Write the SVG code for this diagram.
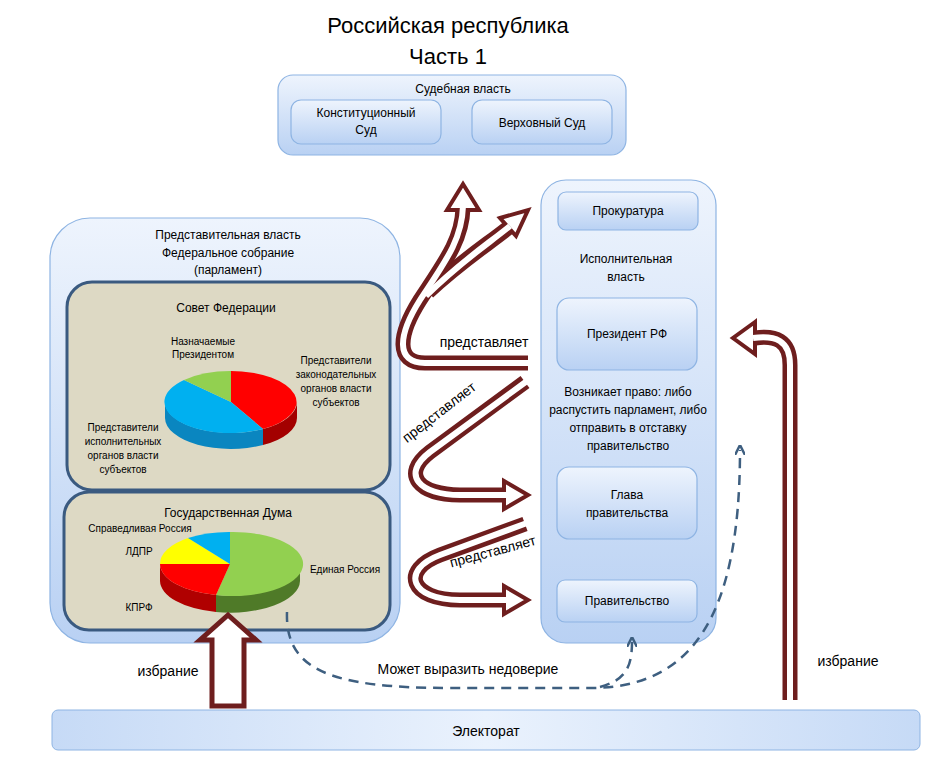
<svg xmlns="http://www.w3.org/2000/svg" width="936" height="757" viewBox="0 0 936 757">
<defs>
<linearGradient id="bg" x1="0" y1="0" x2="0" y2="1"><stop offset="0" stop-color="#eef4fd"/><stop offset="1" stop-color="#b9d1f3"/></linearGradient>
<linearGradient id="bg2" x1="0" y1="0" x2="1" y2="0"><stop offset="0" stop-color="#c6daf6"/><stop offset="0.5" stop-color="#eaf2fd"/><stop offset="1" stop-color="#c6daf6"/></linearGradient>
<marker id="da" markerWidth="10" markerHeight="10" refX="5" refY="5" orient="auto" markerUnits="userSpaceOnUse" viewBox="0 0 10 10"><path d="M0,0 L10,5 L0,10" fill="none" stroke="#3e5f80" stroke-width="2.5"/></marker>
</defs>
<style>
text{font-family:"Liberation Sans",Arial,sans-serif;fill:#000}
.box{fill:url(#bg);stroke:#8eb4e3;stroke-width:1.2}
.in{fill:#ddd9c4;stroke:#3a5a80;stroke-width:3}
.s12{font-size:12px;text-anchor:middle}
.s10{font-size:10px;text-anchor:middle}
.s14{font-size:14px;text-anchor:middle}
.to{fill:none;stroke:#6e1e1e;stroke-width:15;stroke-linecap:butt;stroke-linejoin:round}
.ti{fill:none;stroke:#fff;stroke-width:6;stroke-linecap:butt;stroke-linejoin:round}
.hd{fill:#fff;stroke:#6e1e1e;stroke-width:4;stroke-linejoin:miter}
</style>
<text x="448" y="33" font-size="22" text-anchor="middle">Российская республика</text>
<text x="448" y="64" font-size="22" text-anchor="middle">Часть 1</text>

<g id="judicial">
<rect class="box" x="278" y="75" width="348" height="80" rx="15"/>
<text class="s12" x="463" y="93">Судебная  власть</text>
<rect class="box" x="291" y="100" width="150" height="44" rx="10"/>
<text class="s12" x="366" y="117">Конституционный</text><text class="s12" x="366" y="134">Суд</text>
<rect class="box" x="472" y="100" width="140" height="44" rx="10"/>
<text class="s12" x="542" y="127">Верховный Суд</text>
</g>

<g id="legislative">
<rect class="box" x="50" y="218" width="350" height="425" rx="40"/>
<text class="s12" x="228" y="239">Представительная власть</text>
<text class="s12" x="228" y="257">Федеральное собрание</text>
<text class="s12" x="228" y="274">(парламент)</text>
</g>
<g id="sovet">
<rect class="in" x="67" y="282" width="323" height="208" rx="25"/>
<text class="s12" x="226" y="312">Совет Федерации</text>
<path d="M297,402 A66,31 0 0 1 263,429 L263,445 A66,31 0 0 0 297,418 Z" fill="#a30000"/>
<path d="M263,429 A66,31 0 0 1 165,402 L165,418 A66,31 0 0 0 263,445 Z" fill="#0a86c0"/>
<path d="M231,402 L231,371 A66,31 0 0 1 263,429 Z" fill="#ff0000"/>
<path d="M231,402 L263,429 A66,31 0 0 1 184,380 Z" fill="#00b0f0"/>
<path d="M231,402 L184,380 A66,31 0 0 1 231,371 Z" fill="#92d050"/>
<text class="s10" x="203" y="345">Назначаемые</text><text class="s10" x="203" y="358">Президентом</text>
<text class="s10" x="336" y="364">Представители</text><text class="s10" x="336" y="378">законодательных</text><text class="s10" x="336" y="392">органов власти</text><text class="s10" x="336" y="406">субъектов</text>
<text class="s10" x="123" y="431">Представители</text><text class="s10" x="123" y="445">исполнительных</text><text class="s10" x="123" y="459">органов власти</text><text class="s10" x="123" y="473">субъектов</text>
</g>
<g id="duma">
<rect class="in" x="64" y="492" width="326" height="138" rx="25"/>
<text class="s12" x="228" y="517">Государственная  Дума</text>
<path d="M300,564 A70,32 0 0 1 216,595 L216,612 A70,32 0 0 0 300,581 Z" fill="#4f7a28"/>
<path d="M216,595 A70,32 0 0 1 160,564 L160,581 A70,32 0 0 0 216,612 Z" fill="#b00000"/>
<path d="M230,564 L230,532 A70,32 0 1 1 216,595 Z" fill="#92d050"/>
<path d="M230,564 L216,595 A70,32 0 0 1 160,564 Z" fill="#ff0000"/>
<path d="M230,564 L160,564 A70,32 0 0 1 188,538 Z" fill="#ffff00"/>
<path d="M230,564 L188,538 A70,32 0 0 1 230,532 Z" fill="#00b0f0"/>
<text class="s10" x="140" y="532">Справедливая Россия</text>
<text class="s10" x="139" y="555">ЛДПР</text>
<text class="s10" x="139" y="611">КПРФ</text>
<text class="s10" x="345" y="573">Единая Россия</text>
</g>

<g id="executive">
<rect class="box" x="541" y="180" width="175" height="463" rx="25"/>
<rect class="box" x="558" y="192" width="140" height="38" rx="8"/>
<text class="s12" x="628" y="215">Прокуратура</text>
<text class="s12" x="626" y="263">Исполнительная</text><text class="s12" x="626" y="281">власть</text>
<rect class="box" x="557" y="298" width="140" height="72" rx="12"/>
<text class="s12" x="627" y="338">Президент РФ</text>
<text class="s12" x="628" y="396">Возникает право: либо</text>
<text class="s12" x="628" y="414">распустить парламент, либо</text>
<text class="s12" x="628" y="432">отправить в отставку</text>
<text class="s12" x="628" y="450">правительство</text>
<rect class="box" x="557" y="467" width="140" height="72" rx="12"/>
<text class="s12" x="627" y="499">Глава</text><text class="s12" x="627" y="517">правительства</text>
<rect class="box" x="557" y="580" width="140" height="42" rx="8"/>
<text class="s12" x="627" y="605">Правительство</text>
</g>

<g id="electorate">
<rect x="52" y="710" width="868" height="40" rx="6" fill="url(#bg2)" stroke="#8eb4e3"/>
<text class="s14" x="486" y="736">Электорат</text>
</g>

<g id="connectors">
<path d="M212,706 L212,640 L200,640 L228,615 L256,640 L244,640 L244,706 Z" fill="#fff" stroke="#6e1e1e" stroke-width="5" stroke-linejoin="miter"/>
<text class="s14" x="168" y="676">избрание</text>

<path class="to" d="M790,700 L790,365 C790,340 775,335 755,338"/>
<path class="hd" d="M755,322 L733,338 L755,354 Z"/>
<path class="ti" d="M790,703 L790,365 C790,340 775,335 753,338"/>
<text class="s14" x="848" y="666">избрание</text>

<path d="M287,612 C285,670 330,688 450,688 L590,688 C690,688 740,620 740,450" fill="none" stroke="#3e5f80" stroke-width="2.5" stroke-dasharray="10,7" marker-end="url(#da)"/>
<path d="M600,687 C625,680 632,668 632,642" fill="none" stroke="#3e5f80" stroke-width="2.5" stroke-dasharray="10,7" marker-end="url(#da)"/>
<text class="s14" x="468" y="674">Может выразить недоверие</text>

<path class="to" d="M528,363 L425,363 C395,363 398,335 420,300 C445,262 462,240 463,208"/>
<path class="to" d="M428,292 C460,262 488,244 508,228"/>
<path class="hd" d="M447,210 L463,184 L479,210 Z"/>
<path class="hd" d="M500,218 L528,210 L516,236 Z"/>
<path class="ti" d="M530,363 L425,363 C395,363 398,335 420,300 C445,262 462,240 463,206"/>
<path class="ti" d="M426,296 C460,262 488,244 510,226"/>
<text class="s14" x="484" y="347">представляет</text>

<path class="to" d="M525,382 L430,452 C400,475 420,495 460,495 L506,495"/>
<path class="hd" d="M504,481 L528,495 L504,509 Z"/>
<path class="ti" d="M527,381 L430,452 C400,475 420,495 460,495 L507,495"/>
<text class="s14" x="442" y="416" transform="rotate(-38 442 416)">представляет</text>

<path class="to" d="M525,524 L440,555 C400,570 410,600 460,600 L506,600"/>
<path class="hd" d="M504,586 L528,600 L504,614 Z"/>
<path class="ti" d="M527,523 L440,555 C400,570 410,600 460,600 L507,600"/>
<text class="s14" x="494" y="556" transform="rotate(-15 494 556)">представляет</text>
</g>
</svg>
